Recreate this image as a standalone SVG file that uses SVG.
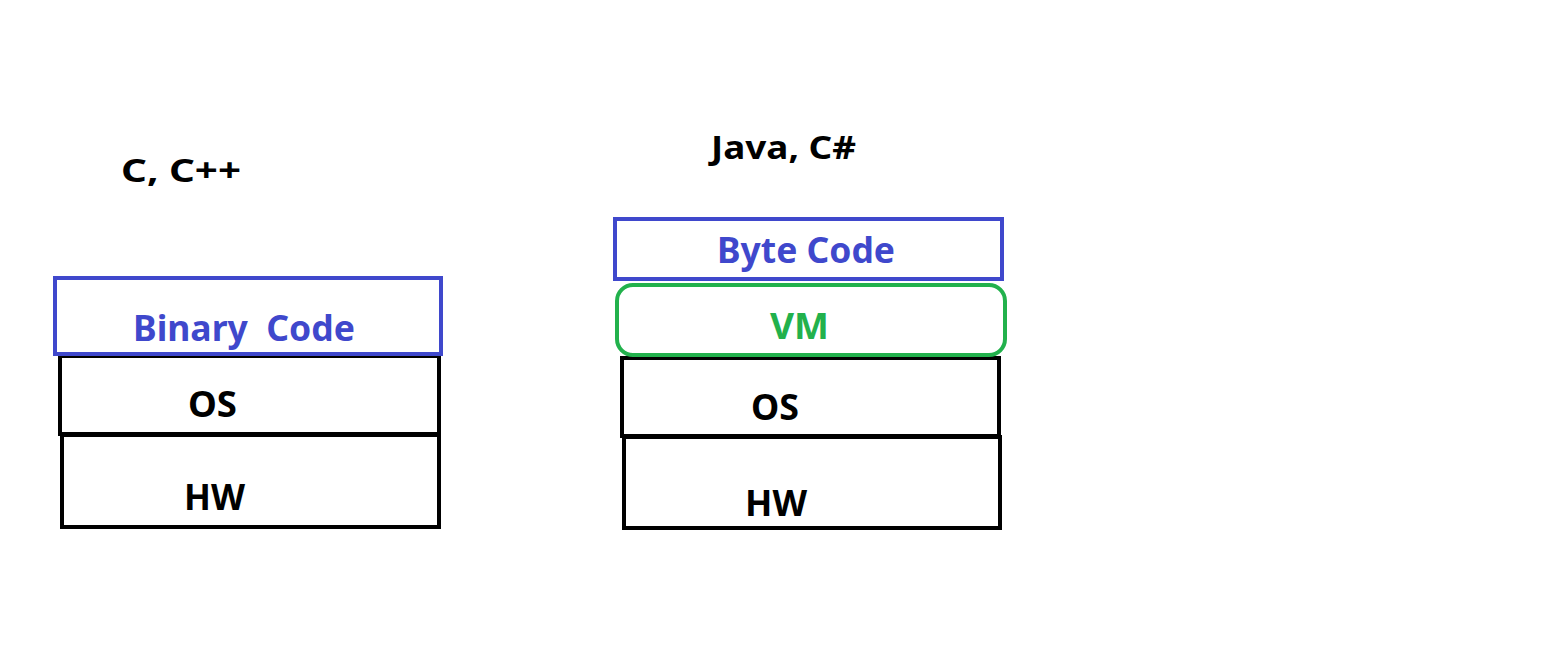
<svg xmlns="http://www.w3.org/2000/svg" width="1560" height="671" viewBox="0 0 1560 671">
<style>
  text { font-family: "Noto Sans", "Noto Sans CJK KR", "Liberation Sans", sans-serif; font-weight: bold; }
  .blk { fill: none; stroke: #000; stroke-width: 4; }
  .blu { fill: none; stroke: #3F48CC; stroke-width: 4; }
  .grn { fill: none; stroke: #22B14C; stroke-width: 4; }
  .tb { fill: #000; font-size: 35px; }
  .tblu { fill: #3F48CC; font-size: 35px; }
  .tgrn { fill: #22B14C; font-size: 36px; }
  .title { fill: #000; font-size: 33px; }
</style>
<rect width="1560" height="671" fill="#fff"/>
<g id="title-left"><text class="title" x="121" y="182" textLength="120" lengthAdjust="spacingAndGlyphs">C, C++</text></g>
<g id="title-right"><text class="title" x="711" y="159" textLength="145" lengthAdjust="spacingAndGlyphs">Java, C#</text></g>
<g id="left-hw"><rect class="blk" x="62" y="435" width="377" height="92"/><text class="tb" x="184" y="510" textLength="61" lengthAdjust="spacingAndGlyphs">HW</text></g>
<g id="left-os"><rect class="blk" x="60" y="356" width="379" height="78"/><text class="tb" x="188" y="417" textLength="49" lengthAdjust="spacingAndGlyphs">OS</text></g>
<g id="left-binary"><rect class="blu" x="55" y="278" width="386" height="76"/><text class="tblu" x="133" y="341" xml:space="preserve" textLength="222" lengthAdjust="spacingAndGlyphs">Binary  Code</text></g>
<g id="right-hw"><rect class="blk" x="624" y="437" width="376" height="91"/><text class="tb" x="745" y="516" textLength="62" lengthAdjust="spacingAndGlyphs">HW</text></g>
<g id="right-os"><rect class="blk" x="622" y="358" width="377" height="78"/><text class="tb" x="751" y="420" textLength="48" lengthAdjust="spacingAndGlyphs">OS</text></g>
<g id="right-byte"><rect class="blu" x="615" y="219" width="387" height="60"/><text class="tblu" x="717" y="263" textLength="178" lengthAdjust="spacingAndGlyphs">Byte Code</text></g>
<g id="right-vm"><rect class="grn" x="617" y="285" width="388" height="70" rx="16"/><text class="tgrn" x="770" y="339" textLength="59" lengthAdjust="spacingAndGlyphs">VM</text></g>
<g id="connectors"></g>
</svg>
